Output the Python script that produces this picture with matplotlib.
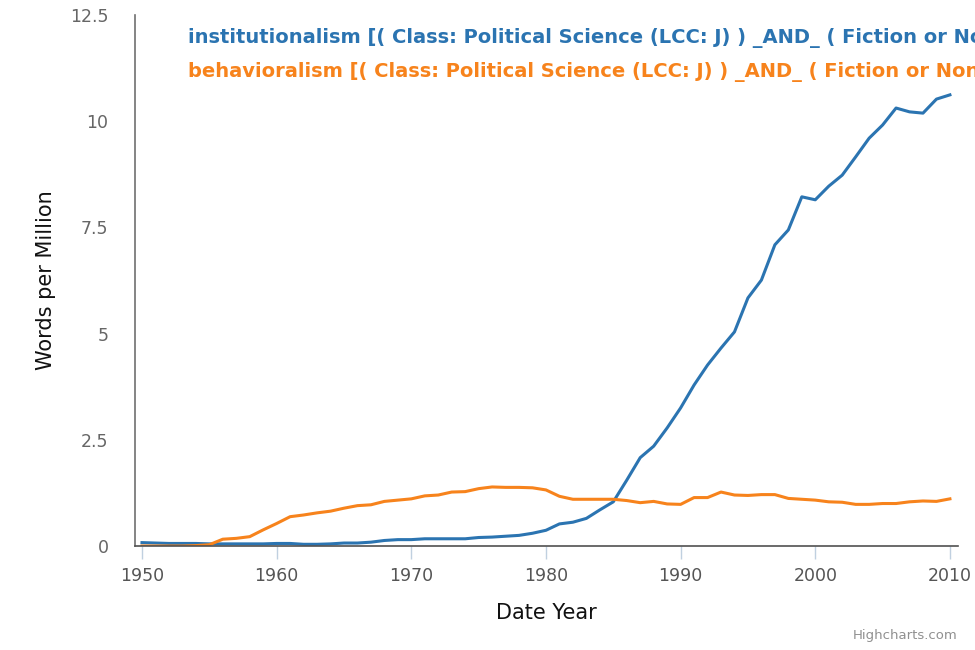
import matplotlib
matplotlib.use("Agg")

import numpy as np
import matplotlib.pyplot as plt

# Data (words per million, one value per year)
years = np.arange(1950, 2011)

institutionalism = [
    0.08, 0.07, 0.06, 0.06, 0.06, 0.05, 0.05, 0.05, 0.05, 0.05,
    0.06, 0.06, 0.04, 0.04, 0.05, 0.07, 0.07, 0.09, 0.13, 0.15,
    0.15, 0.17, 0.17, 0.17, 0.17, 0.20, 0.21, 0.23, 0.25, 0.30,
    0.37, 0.52, 0.56, 0.65, 0.85, 1.04, 1.55, 2.08, 2.35, 2.78,
    3.25, 3.79, 4.26, 4.66, 5.04, 5.84, 6.26, 7.09, 7.44, 8.22,
    8.15, 8.47, 8.73, 9.16, 9.60, 9.91, 10.31, 10.22, 10.19, 10.52,
    10.62,
]

behavioralism = [
    0.00, 0.00, 0.00, 0.00, 0.01, 0.03, 0.16, 0.18, 0.22, 0.38,
    0.53, 0.69, 0.73, 0.78, 0.82, 0.89, 0.95, 0.97, 1.05, 1.08,
    1.11, 1.18, 1.20, 1.27, 1.28, 1.35, 1.39, 1.38, 1.38, 1.37,
    1.32, 1.17, 1.10, 1.10, 1.10, 1.10, 1.07, 1.02, 1.05, 0.99,
    0.98, 1.14, 1.14, 1.27, 1.20, 1.19, 1.21, 1.21, 1.12, 1.10,
    1.08, 1.04, 1.03, 0.98, 0.98, 1.00, 1.00, 1.04, 1.06, 1.05,
    1.11,
]

series_names = [
    "institutionalism [( Class: Political Science (LCC: J) ) _AND_ ( Fiction or Nonfiction: Nonfiction ) ]",
    "behavioralism [( Class: Political Science (LCC: J) ) _AND_ ( Fiction or Nonfiction: Nonfiction ) ]",
]
colors = ["#2b74b1", "#f7831c"]

y_ticks = [0, 2.5, 5, 7.5, 10, 12.5]
y_tick_labels = ["0", "2.5", "5", "7.5", "10", "12.5"]
x_ticks = [1950, 1960, 1970, 1980, 1990, 2000, 2010]

W, H = 975, 650
fig = plt.figure(figsize=(W / 100, H / 100), dpi=100)
ax = fig.add_axes([135 / W, 1 - 546 / H, (958 - 135) / W, (546 - 15) / H])

ax.plot(years, institutionalism, color=colors[0], lw=2.2, solid_joinstyle="round")
ax.plot(years, behavioralism, color=colors[1], lw=2.2, solid_joinstyle="round")

ax.set_xlim(1949.48, 2010.6)
ax.set_ylim(0, 12.5)

# Axes styling, Highcharts look
for side in ["top", "right"]:
    ax.spines[side].set_visible(False)
ax.spines["left"].set_color("#707070")
ax.spines["left"].set_linewidth(1.2)
ax.spines["bottom"].set_color("#505050")
ax.spines["bottom"].set_linewidth(1.2)

ax.set_yticks(y_ticks)
ax.set_yticklabels(y_tick_labels)
ax.tick_params(axis="y", length=0, pad=19, labelsize=12.5, labelcolor="#666666")
ax.set_xticks(x_ticks)
ax.tick_params(axis="x", length=9, width=1, color="#c0d0e0", pad=6,
               labelsize=12.5, labelcolor="#555555")

ax.set_xlabel("Date Year", fontsize=15, color="#111111", labelpad=13)
ax.set_ylabel("Words per Million", fontsize=15, color="#111111", labelpad=10)

# Legend drawn as coloured bold text (runs off the right edge as in the original)
fig.text(188 / W, 1 - 38 / H, series_names[0], color=colors[0], fontsize=14,
         fontweight="bold", va="center", ha="left")
fig.text(188 / W, 1 - 72 / H, series_names[1], color=colors[1], fontsize=14,
         fontweight="bold", va="center", ha="left")

fig.text(958 / W, 1 - 636 / H, "Highcharts.com", color="#909090", fontsize=9.5,
         ha="right", va="center")

fig.savefig("out.png", dpi=100)
